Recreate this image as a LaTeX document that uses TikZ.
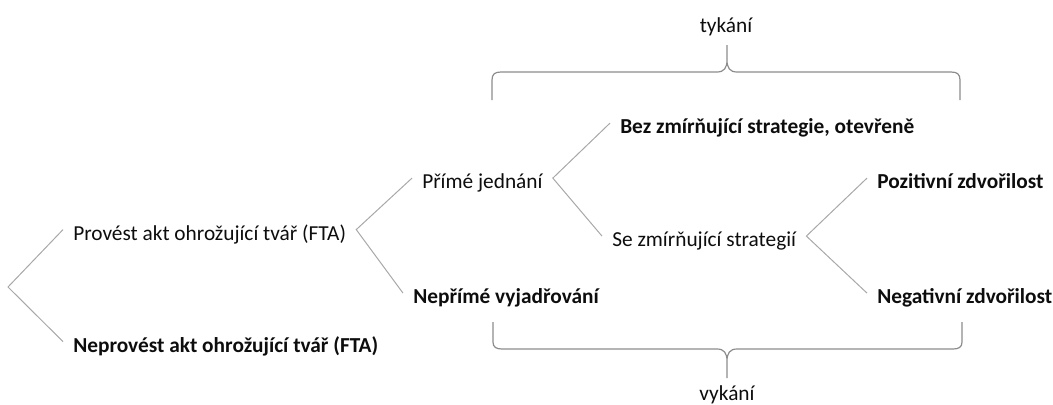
\documentclass[tikz,border=0pt]{standalone}
\usepackage{fontspec}
\setmainfont{Carlito}
\definecolor{textc}{HTML}{0D0D0D}
\definecolor{forkc}{HTML}{A8A8A8}
\definecolor{bracec}{HTML}{8C8C8C}

\begin{document}
\begin{tikzpicture}[x=0.75pt, y=-0.75pt,
  item/.style={anchor=base west, inner xsep=7.5pt, inner ysep=0pt,
    text height=15.6pt, text depth=0pt, text=textc,
    font=\fontsize{16}{19}\selectfont},
  strong/.style={item, font=\fontsize{16}{19}\selectfont\bfseries},
  side/.style={text=textc, font=\fontsize{16}{19}\selectfont},
  fork/.style={forkc, line width=0.75pt},
  brace/.style={bracec, line width=0.9pt}]
  \useasboundingbox (0,0) rectangle (1053,404);
  % Výchozí rozhodnutí
  \coordinate (root) at (8,287);
  \node[item] (provest) at (63,240) {Provést akt ohrožující tvář (FTA)};
  \node[strong] (neprovest) at (63,352) {Neprovést akt ohrožující tvář (FTA)};
  % Druhá úroveň
  \node[item] (prime) at (412,188.5) {Přímé jednání};
  \node[strong] (neprime) at (403,303.5) {Nepřímé vyjadřování};
  % Třetí úroveň
  \node[strong] (bez) at (610,133.5) {Bez zmírňující strategie, otevřeně};
  \node[item] (se) at (602,246.5) {Se zmírňující strategií};
  % Zdvořilost
  \node[strong] (pozit) at (867,188.5) {Pozitivní zdvořilost};
  \node[strong] (negat) at (867,303.5) {Negativní zdvořilost};
  % Větvení
  \draw[fork] (provest.west) -- (root) -- (neprovest.west);
  \draw[fork] (prime.west) -- (provest.east) -- (neprime.west);
  \draw[fork] (bez.west) -- (prime.east) -- (se.west);
  \draw[fork] (pozit.west) -- (se.east) -- (negat.west);
  % Závorka nahoře: tykání
  \draw[brace] (492,100) -- (492,80) .. controls (492,74) and (495,72) .. (501,72)
    -- (717,72) .. controls (724,72) and (727,68) .. (727,60) -- (727,45)
    -- (727,60) .. controls (727,68) and (730,72) .. (737,72)
    -- (951,72) .. controls (957,72) and (960,74) .. (960,80) -- (960,100);
  \node[side] (tykani) at (726,27) {tykání};
  % Závorka dole: vykání
  \draw[brace] (493,322) -- (493,342) .. controls (493,347) and (496,349) .. (502,349)
    -- (717,349) .. controls (724,349) and (727,353) .. (727,361) -- (727,378)
    -- (727,361) .. controls (727,353) and (730,349) .. (737,349)
    -- (953,349) .. controls (959,349) and (962,347) .. (962,342) -- (962,322);
  \node[side] (vykani) at (727,395) {vykání};
\end{tikzpicture}
\end{document}
